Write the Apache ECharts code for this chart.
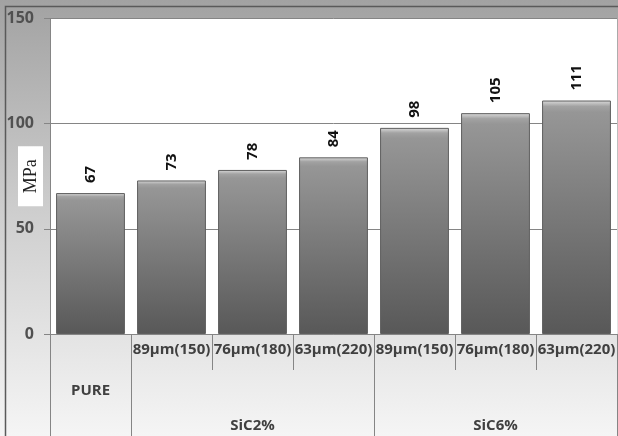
<!DOCTYPE html>
<html>
<head>
<meta charset="utf-8">
<script src="https://cdn.jsdelivr.net/npm/echarts@6/dist/echarts.min.js"></script>
<style>html,body{margin:0;padding:0;}#c{width:618px;height:436px;}</style>
</head>
<body>
<div id="c"></div>
<script>
const subLabels = ['', '89µm(150)', '76µm(180)', '63µm(220)', '89µm(150)', '76µm(180)', '63µm(220)'];
const groupNames = ['PURE', 'SiC2%', 'SiC6%'];
const groupSpans = [1, 3, 3];
const values = [67, 73, 78, 84, 98, 105, 111];
const yMin = 0, yMax = 150, yStep = 50;
const yName = 'MPa';

const n = subLabels.length;
const groupStarts = [];
const pureLabels = new Array(n).fill('');
const groupLabels = new Array(n).fill('');
let s = 0;
groupNames.forEach((g, i) => {
  groupStarts.push(s);
  const c = s + Math.floor(groupSpans[i] / 2);
  if (groupSpans[i] === 1) pureLabels[c] = g; else groupLabels[c] = g;
  s += groupSpans[i];
});
const cats = subLabels.map((_, i) => 'c' + i);

const chart = echarts.init(document.getElementById('c'));
const lineC = '#858585';
const font = '"Open Sans", "Liberation Sans", sans-serif';
chart.setOption({
  animation: false,
  backgroundColor: {
    type: 'linear', x: 0, y: 0, x2: 0, y2: 1,
    colorStops: [{offset: 0, color: '#a2a2a2'}, {offset: 0.5, color: '#cfcfcf'}, {offset: 1, color: '#f5f5f5'}]
  },
  graphic: [{
    type: 'rect', z: 100, silent: true,
    shape: {x: 5.5, y: 6.5, width: 640, height: 460},
    style: {fill: null, stroke: '#5a5a5a', lineWidth: 1.5}
  }],
  grid: {left: 50, right: 1, top: 18.5, bottom: 102, containLabel: false, outerBoundsMode: 'none',
    show: true, backgroundColor: '#ffffff', borderWidth: 0},
  xAxis: [{
    type: 'category', data: cats, position: 'bottom',
    axisLine: {show: true, lineStyle: {color: lineC}},
    axisTick: {show: true, interval: 0, length: 36, lineStyle: {color: lineC}},
    axisLabel: {interval: 0, margin: 8, formatter: (v, i) => subLabels[i], color: '#404040', fontFamily: font, fontSize: 15, fontWeight: 'bold'}
  }, {
    type: 'category', data: cats, position: 'bottom', gridIndex: 0,
    axisLine: {show: false},
    axisTick: {show: true, length: 102, interval: (i) => groupStarts.indexOf(i) >= 0, lineStyle: {color: lineC}},
    axisLabel: {interval: 0, margin: 84, formatter: (v, i) => groupLabels[i], color: '#404040', fontFamily: font, fontSize: 15, fontWeight: 'bold'}
  }, {
    type: 'category', data: cats, position: 'bottom', gridIndex: 0,
    axisLine: {show: false}, axisTick: {show: false},
    axisLabel: {interval: 0, margin: 49, formatter: (v, i) => pureLabels[i], color: '#404040', fontFamily: font, fontSize: 15, fontWeight: 'bold'}
  }],
  yAxis: {
    type: 'value', min: yMin, max: yMax, interval: yStep,
    name: yName, nameLocation: 'middle', nameGap: 7, nameRotate: 90, nameMoveOverlap: false,
    nameTextStyle: {fontFamily: '"Liberation Serif", serif', fontSize: 18, color: '#222', backgroundColor: '#ffffff', padding: [4, 13, 3, 13], lineHeight: 18},
    axisLine: {show: true, lineStyle: {color: lineC}},
    axisTick: {show: true, length: 6, lineStyle: {color: lineC}},
    splitLine: {show: true, lineStyle: {color: lineC, width: 1}},
    axisLabel: {margin: 16, color: '#505050', fontFamily: font, fontSize: 16, fontWeight: 'bold'}
  },
  series: [{
    type: 'bar', data: values, xAxisIndex: 0, barCategoryGap: '15%',
    itemStyle: {
      color: {type: 'linear', x: 0, y: 0, x2: 0, y2: 1, colorStops: [
        {offset: 0, color: '#dcdcdc'}, {offset: 0.025, color: '#a2a2a2'}, {offset: 0.05, color: '#969696'}, {offset: 1, color: '#585858'}
      ]},
      borderColor: '#5e5e5e', borderWidth: 1
    },
    label: {
      show: true, position: 'top', rotate: 90, align: 'left', verticalAlign: 'middle', distance: 10,
      color: '#111', fontFamily: font, fontSize: 15, fontWeight: 'bold'
    }
  }]
});
</script>
</body>
</html>
